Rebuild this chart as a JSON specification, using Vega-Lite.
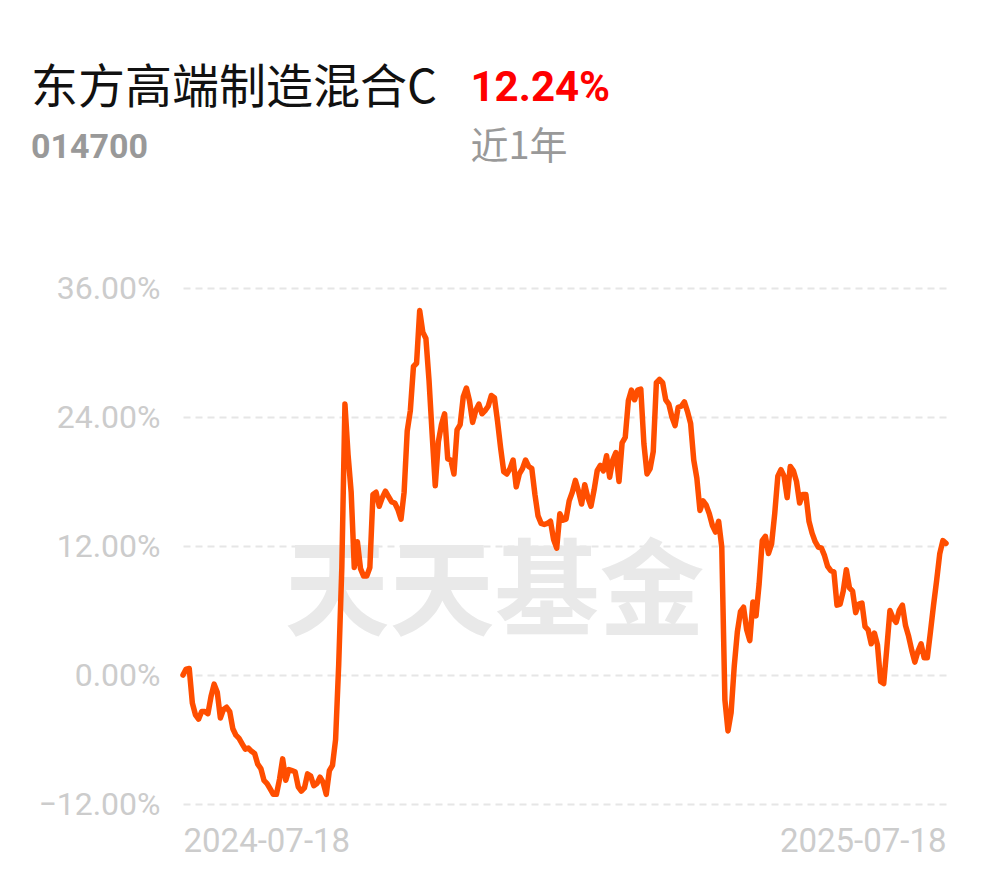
{
  "$schema": "https://vega.github.io/schema/vega-lite/v6.json",
  "autosize": {"type": "none"},
  "width": 763,
  "height": 516,
  "padding": {"left": 183, "top": 288, "right": 44, "bottom": 74},
  "background": "#ffffff",
  "title": {
    "text": "东方高端制造混合C",
    "subtitle": "014700",
    "anchor": "start",
    "frame": "group",
    "dx": -152,
    "offset": -100,
    "font": "Noto Sans CJK SC",
    "fontSize": 47,
    "fontWeight": "normal",
    "color": "#111111",
    "subtitleFont": "Roboto",
    "subtitleFontSize": 34,
    "subtitleFontWeight": "bold",
    "subtitleColor": "#999999",
    "subtitlePadding": 18
  },
  "config": {"view": {"stroke": null}},
  "datasets": {
    "wm": [{"text": "天天基金"}],
    "nav": [
      {"day": 0, "return": 0.0}, {"day": 1, "return": 0.55}, {"day": 2, "return": 0.6}, {"day": 3, "return": -2.6},
      {"day": 4, "return": -3.7}, {"day": 5, "return": -4.1}, {"day": 6, "return": -3.4}, {"day": 7, "return": -3.4},
      {"day": 8, "return": -3.6}, {"day": 9, "return": -2.0}, {"day": 10, "return": -0.85}, {"day": 11, "return": -1.6},
      {"day": 12, "return": -4.0}, {"day": 13, "return": -3.2}, {"day": 14, "return": -3.0}, {"day": 15, "return": -3.4},
      {"day": 16, "return": -5.0}, {"day": 17, "return": -5.6}, {"day": 18, "return": -5.9}, {"day": 19, "return": -6.4},
      {"day": 20, "return": -6.9}, {"day": 21, "return": -6.8}, {"day": 22, "return": -7.1}, {"day": 23, "return": -7.3},
      {"day": 24, "return": -8.3}, {"day": 25, "return": -8.7}, {"day": 26, "return": -9.8}, {"day": 27, "return": -10.1},
      {"day": 28, "return": -10.6}, {"day": 29, "return": -11.1}, {"day": 30, "return": -11.1}, {"day": 31, "return": -9.7},
      {"day": 32, "return": -7.8}, {"day": 33, "return": -9.8}, {"day": 34, "return": -8.8}, {"day": 35, "return": -8.9},
      {"day": 36, "return": -9.0}, {"day": 37, "return": -10.4}, {"day": 38, "return": -10.8}, {"day": 39, "return": -10.5},
      {"day": 40, "return": -9.2}, {"day": 41, "return": -9.4}, {"day": 42, "return": -10.3}, {"day": 43, "return": -10.1},
      {"day": 44, "return": -9.5}, {"day": 45, "return": -10.0}, {"day": 46, "return": -11.1}, {"day": 47, "return": -8.9},
      {"day": 48, "return": -8.4}, {"day": 49, "return": -6.0}, {"day": 50, "return": 1.0}, {"day": 51, "return": 10.0},
      {"day": 52, "return": 25.2}, {"day": 53, "return": 20.5}, {"day": 54, "return": 17.0}, {"day": 55, "return": 10.0},
      {"day": 56, "return": 12.4}, {"day": 57, "return": 9.9}, {"day": 58, "return": 9.2}, {"day": 59, "return": 9.2},
      {"day": 60, "return": 10.0}, {"day": 61, "return": 16.8}, {"day": 62, "return": 17.0}, {"day": 63, "return": 15.7},
      {"day": 64, "return": 16.5}, {"day": 65, "return": 17.1}, {"day": 66, "return": 16.6}, {"day": 67, "return": 16.1},
      {"day": 68, "return": 16.0}, {"day": 69, "return": 15.4}, {"day": 70, "return": 14.5}, {"day": 71, "return": 17.0},
      {"day": 72, "return": 22.7}, {"day": 73, "return": 24.6}, {"day": 74, "return": 28.7}, {"day": 75, "return": 29.0},
      {"day": 76, "return": 33.9}, {"day": 77, "return": 31.9}, {"day": 78, "return": 31.3}, {"day": 79, "return": 27.4},
      {"day": 80, "return": 22.4}, {"day": 81, "return": 17.6}, {"day": 82, "return": 21.7}, {"day": 83, "return": 23.3},
      {"day": 84, "return": 24.3}, {"day": 85, "return": 20.1}, {"day": 86, "return": 20.0}, {"day": 87, "return": 18.7},
      {"day": 88, "return": 22.8}, {"day": 89, "return": 23.3}, {"day": 90, "return": 25.9}, {"day": 91, "return": 26.7},
      {"day": 92, "return": 25.5}, {"day": 93, "return": 23.5}, {"day": 94, "return": 24.6}, {"day": 95, "return": 25.2},
      {"day": 96, "return": 24.3}, {"day": 97, "return": 24.6}, {"day": 98, "return": 25.0}, {"day": 99, "return": 26.0},
      {"day": 100, "return": 25.8}, {"day": 101, "return": 23.6}, {"day": 102, "return": 21.1}, {"day": 103, "return": 18.9},
      {"day": 104, "return": 18.7}, {"day": 105, "return": 19.2}, {"day": 106, "return": 20.0}, {"day": 107, "return": 17.5},
      {"day": 108, "return": 18.7}, {"day": 109, "return": 19.2}, {"day": 110, "return": 20.0}, {"day": 111, "return": 19.4},
      {"day": 112, "return": 19.2}, {"day": 113, "return": 16.8}, {"day": 114, "return": 14.8}, {"day": 115, "return": 14.1},
      {"day": 116, "return": 14.0}, {"day": 117, "return": 14.1}, {"day": 118, "return": 14.3}, {"day": 119, "return": 12.6},
      {"day": 120, "return": 11.8}, {"day": 121, "return": 15.0}, {"day": 122, "return": 14.4}, {"day": 123, "return": 14.5},
      {"day": 124, "return": 16.2}, {"day": 125, "return": 17.0}, {"day": 126, "return": 18.1}, {"day": 127, "return": 17.1},
      {"day": 128, "return": 15.9}, {"day": 129, "return": 17.7}, {"day": 130, "return": 16.5}, {"day": 131, "return": 15.7},
      {"day": 132, "return": 17.2}, {"day": 133, "return": 19.0}, {"day": 134, "return": 19.5}, {"day": 135, "return": 19.0},
      {"day": 136, "return": 20.4}, {"day": 137, "return": 18.4}, {"day": 138, "return": 20.0}, {"day": 139, "return": 20.7},
      {"day": 140, "return": 18.0}, {"day": 141, "return": 21.6}, {"day": 142, "return": 22.1}, {"day": 143, "return": 25.5},
      {"day": 144, "return": 26.5}, {"day": 145, "return": 25.6}, {"day": 146, "return": 26.5}, {"day": 147, "return": 26.6},
      {"day": 148, "return": 21.5}, {"day": 149, "return": 18.7}, {"day": 150, "return": 19.2}, {"day": 151, "return": 20.8},
      {"day": 152, "return": 27.2}, {"day": 153, "return": 27.5}, {"day": 154, "return": 27.2}, {"day": 155, "return": 25.6},
      {"day": 156, "return": 25.2}, {"day": 157, "return": 24.0}, {"day": 158, "return": 23.2}, {"day": 159, "return": 24.9},
      {"day": 160, "return": 25.0}, {"day": 161, "return": 25.4}, {"day": 162, "return": 24.5}, {"day": 163, "return": 23.4},
      {"day": 164, "return": 20.0}, {"day": 165, "return": 18.3}, {"day": 166, "return": 15.3}, {"day": 167, "return": 16.2},
      {"day": 168, "return": 15.8}, {"day": 169, "return": 15.0}, {"day": 170, "return": 13.9}, {"day": 171, "return": 13.3},
      {"day": 172, "return": 14.3}, {"day": 173, "return": 11.9}, {"day": 174, "return": -2.3}, {"day": 175, "return": -5.2},
      {"day": 176, "return": -3.5}, {"day": 177, "return": 0.8}, {"day": 178, "return": 4.0}, {"day": 179, "return": 5.9},
      {"day": 180, "return": 6.3}, {"day": 181, "return": 4.2}, {"day": 182, "return": 3.2}, {"day": 183, "return": 6.8},
      {"day": 184, "return": 5.5}, {"day": 185, "return": 8.5}, {"day": 186, "return": 12.5}, {"day": 187, "return": 12.9},
      {"day": 188, "return": 11.3}, {"day": 189, "return": 12.2}, {"day": 190, "return": 15.0}, {"day": 191, "return": 18.5},
      {"day": 192, "return": 19.1}, {"day": 193, "return": 18.5}, {"day": 194, "return": 16.5}, {"day": 195, "return": 19.4},
      {"day": 196, "return": 19.0}, {"day": 197, "return": 18.0}, {"day": 198, "return": 16.0}, {"day": 199, "return": 16.8},
      {"day": 200, "return": 16.8}, {"day": 201, "return": 14.3}, {"day": 202, "return": 13.2}, {"day": 203, "return": 12.4},
      {"day": 204, "return": 11.9}, {"day": 205, "return": 11.8}, {"day": 206, "return": 11.1}, {"day": 207, "return": 10.1},
      {"day": 208, "return": 9.7}, {"day": 209, "return": 9.6}, {"day": 210, "return": 6.5}, {"day": 211, "return": 6.6},
      {"day": 212, "return": 7.8}, {"day": 213, "return": 9.8}, {"day": 214, "return": 8.1}, {"day": 215, "return": 7.8},
      {"day": 216, "return": 5.8}, {"day": 217, "return": 6.6}, {"day": 218, "return": 6.7}, {"day": 219, "return": 4.5},
      {"day": 220, "return": 4.2}, {"day": 221, "return": 2.9}, {"day": 222, "return": 3.9}, {"day": 223, "return": 2.8},
      {"day": 224, "return": -0.6}, {"day": 225, "return": -0.8}, {"day": 226, "return": 2.5}, {"day": 227, "return": 6.0},
      {"day": 228, "return": 5.3}, {"day": 229, "return": 4.9}, {"day": 230, "return": 6.0}, {"day": 231, "return": 6.5},
      {"day": 232, "return": 4.6}, {"day": 233, "return": 3.6}, {"day": 234, "return": 2.3}, {"day": 235, "return": 1.2},
      {"day": 236, "return": 2.2}, {"day": 237, "return": 2.9}, {"day": 238, "return": 1.6}, {"day": 239, "return": 1.6},
      {"day": 240, "return": 4.0}, {"day": 241, "return": 6.5}, {"day": 242, "return": 8.8}, {"day": 243, "return": 11.3},
      {"day": 244, "return": 12.5}, {"day": 245, "return": 12.24}
    ]
  },
  "layer": [
    {
      "data": {"name": "wm"},
      "mark": {"type": "text", "font": "Noto Sans CJK SC", "fontSize": 105, "fontWeight": "bold", "color": "#e9e9e9", "align": "center", "baseline": "middle"},
      "encoding": {
        "x": {"datum": 100, "type": "quantitative"},
        "y": {"datum": 7.4, "type": "quantitative"},
        "text": {"field": "text"}
      }
    },
    {
      "data": {"name": "nav"},
      "mark": {"type": "line", "color": "#ff4e00", "strokeWidth": 5.5, "strokeJoin": "round", "strokeCap": "round"},
      "encoding": {
        "x": {
          "field": "day", "type": "quantitative",
          "scale": {"domain": [0, 245], "nice": false, "zero": false},
          "axis": {
            "values": [0, 245],
            "labelExpr": "datum.value == 0 ? '2024-07-18' : '2025-07-18'",
            "labelFlush": true,
            "grid": false, "domain": false, "ticks": false,
            "labelFont": "Roboto", "labelFontSize": 33, "labelColor": "#cccccc", "labelPadding": 21,
            "title": "近1年", "titleX": 287, "titleY": -657, "titleAlign": "left", "titleBaseline": "middle", "titleAngle": 0,
            "titleFont": "Noto Sans CJK SC", "titleFontSize": 38, "titleFontWeight": "normal", "titleColor": "#999999"
          }
        },
        "y": {
          "field": "return", "type": "quantitative",
          "scale": {"domain": [-12, 36], "nice": false, "zero": false},
          "axis": {
            "values": [-12, 0, 12, 24, 36],
            "labelExpr": "format(datum.value, '.2f') + '%'",
            "grid": true, "gridDash": [7, 5], "gridColor": "#e6e6e6", "gridWidth": 2,
            "domain": false, "ticks": false,
            "labelFont": "Roboto", "labelFontSize": 32, "labelColor": "#cccccc", "labelPadding": 23,
            "title": "12.24%", "titleX": 287, "titleY": -201, "titleAlign": "left", "titleBaseline": "middle", "titleAngle": 0,
            "titleFont": "Roboto", "titleFontSize": 42, "titleFontWeight": "bold", "titleColor": "#ff0000"
          }
        }
      }
    }
  ]
}
